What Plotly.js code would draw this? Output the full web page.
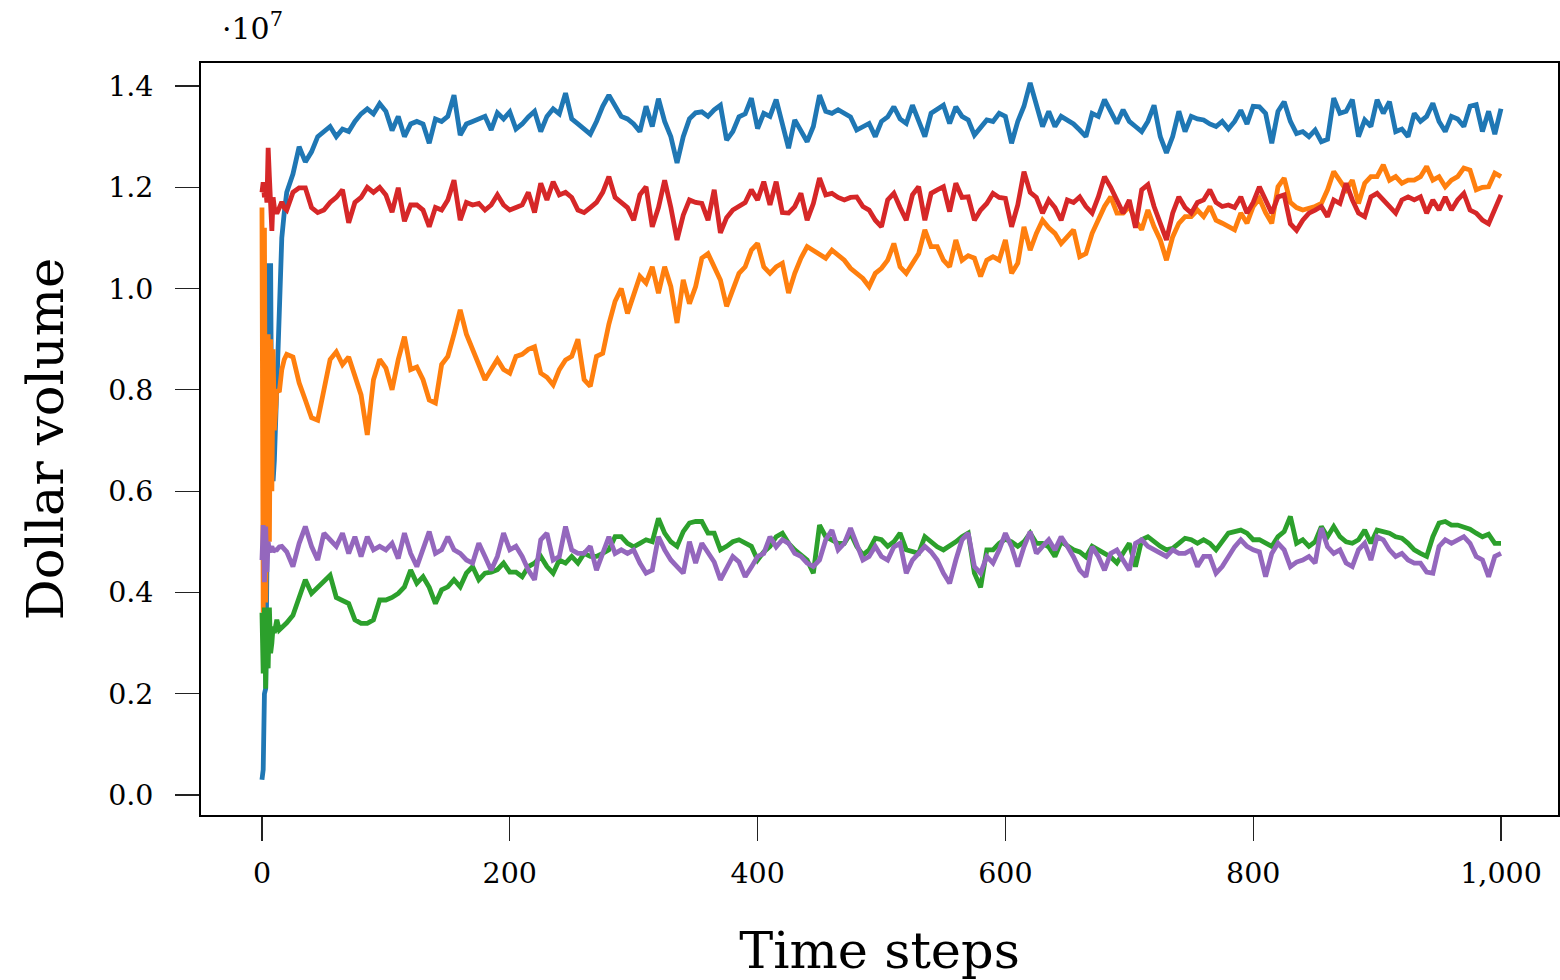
<!DOCTYPE html>
<html><head><meta charset="utf-8">
<script src="https://cdn.plot.ly/plotly-3.0.1.min.js"></script>
<style>html,body{margin:0;padding:0;background:#fff}#chart{width:1560px;height:980px}</style>
</head><body><div id="chart"></div>
<script>
// Time steps (sampling grid)
const steps = [0,1,2,3,4,5,6,7,8,9,10,12,14,16,18,20,
25,30,35,40,45,50,55,60,65,70,75,80,85,90,95,100,
105,110,115,120,125,130,135,140,145,150,155,160,165,170,175,180,185,190,195,200,
205,210,215,220,225,230,235,240,245,250,255,260,265,270,275,280,285,290,295,300,
305,310,315,320,325,330,335,340,345,350,355,360,365,370,375,380,385,390,395,400,
405,410,415,420,425,430,435,440,445,450,455,460,465,470,475,480,485,490,495,500,
505,510,515,520,525,530,535,540,545,550,555,560,565,570,575,580,585,590,595,600,
605,610,615,620,625,630,635,640,645,650,655,660,665,670,675,680,685,690,695,700,
705,710,715,720,725,730,735,740,745,750,755,760,765,770,775,780,785,790,795,800,
805,810,815,820,825,830,835,840,845,850,855,860,865,870,875,880,885,890,895,900,
905,910,915,920,925,930,935,940,945,950,955,960,965,970,975,980,985,990,995,1000];

// Dollar volume, in units of 1e7
const seriesBlue = [0.03,0.05,0.20,0.21,0.45,1.05,0.88,1.05,0.63,0.62,0.66,0.80,0.98,1.10,1.15,1.19,
1.226,1.28,1.25,1.27,1.30,1.31,1.32,1.30,1.315,1.31,1.33,1.345,1.355,1.345,1.365,1.35,
1.312,1.34,1.30,1.325,1.33,1.325,1.287,1.335,1.33,1.34,1.382,1.303,1.325,1.33,1.335,1.34,1.313,1.347,1.335,1.349,
1.315,1.325,1.339,1.35,1.31,1.34,1.355,1.345,1.386,1.335,1.325,1.315,1.305,1.33,1.36,1.382,1.36,1.34,1.335,1.325,
1.31,1.36,1.32,1.375,1.33,1.30,1.248,1.30,1.335,1.347,1.349,1.34,1.353,1.362,1.293,1.31,1.339,1.345,1.376,1.316,
1.346,1.34,1.373,1.320,1.277,1.333,1.31,1.290,1.32,1.382,1.35,1.346,1.353,1.345,1.339,1.313,1.32,1.326,1.300,1.33,
1.339,1.359,1.335,1.326,1.362,1.33,1.300,1.346,1.355,1.362,1.326,1.359,1.34,1.333,1.303,1.32,1.333,1.33,1.346,1.34,
1.287,1.33,1.36,1.406,1.36,1.32,1.35,1.32,1.34,1.333,1.325,1.313,1.30,1.346,1.34,1.373,1.35,1.326,1.353,1.33,
1.32,1.31,1.33,1.362,1.30,1.268,1.30,1.35,1.31,1.34,1.335,1.333,1.325,1.32,1.33,1.315,1.33,1.352,1.325,1.36,
1.359,1.346,1.287,1.35,1.369,1.33,1.306,1.31,1.30,1.313,1.29,1.295,1.376,1.346,1.35,1.373,1.30,1.333,1.32,1.373,
1.346,1.369,1.31,1.315,1.30,1.346,1.33,1.34,1.366,1.33,1.31,1.34,1.335,1.32,1.36,1.363,1.31,1.35,1.305,1.355];

const seriesOrange = [1.16,0.36,1.12,0.38,0.62,0.91,0.50,0.90,0.60,0.88,0.72,0.80,0.796,0.84,0.86,0.87,
0.865,0.814,0.78,0.745,0.74,0.80,0.86,0.875,0.85,0.865,0.83,0.79,0.711,0.82,0.86,0.843,
0.80,0.86,0.905,0.84,0.845,0.82,0.78,0.774,0.85,0.866,0.91,0.958,0.91,0.88,0.85,0.82,0.84,0.86,0.84,0.833,
0.866,0.87,0.88,0.885,0.833,0.825,0.81,0.84,0.859,0.866,0.90,0.82,0.807,0.866,0.872,0.93,0.975,1.00,0.951,0.99,
1.024,1.011,1.043,0.991,1.043,1.004,0.932,1.017,0.97,1.004,1.06,1.069,1.043,1.017,0.965,1.00,1.030,1.043,1.076,1.089,
1.043,1.030,1.043,1.050,0.991,1.030,1.06,1.083,1.075,1.069,1.06,1.076,1.065,1.056,1.04,1.030,1.02,1.004,1.030,1.04,
1.056,1.089,1.043,1.030,1.05,1.069,1.116,1.083,1.083,1.056,1.043,1.096,1.056,1.065,1.06,1.024,1.056,1.063,1.056,1.096,
1.030,1.05,1.122,1.076,1.109,1.135,1.12,1.109,1.089,1.102,1.116,1.063,1.069,1.109,1.135,1.162,1.181,1.149,1.149,1.162,
1.135,1.116,1.155,1.122,1.096,1.056,1.102,1.129,1.142,1.142,1.155,1.142,1.162,1.135,1.129,1.122,1.116,1.149,1.129,1.162,
1.178,1.15,1.129,1.201,1.218,1.17,1.16,1.155,1.158,1.162,1.168,1.195,1.231,1.214,1.195,1.214,1.168,1.208,1.221,1.221,
1.244,1.214,1.221,1.208,1.214,1.214,1.221,1.241,1.214,1.221,1.201,1.214,1.221,1.238,1.234,1.195,1.20,1.201,1.228,1.221];

const seriesGreen = [0.36,0.24,0.37,0.21,0.36,0.25,0.37,0.28,0.30,0.333,0.32,0.346,0.326,0.33,0.333,0.34,
0.355,0.392,0.425,0.398,0.41,0.421,0.434,0.39,0.385,0.378,0.346,0.339,0.339,0.346,0.385,0.385,
0.39,0.398,0.411,0.444,0.418,0.431,0.41,0.378,0.405,0.411,0.425,0.411,0.438,0.451,0.425,0.438,0.44,0.445,0.458,0.44,
0.44,0.431,0.451,0.458,0.471,0.451,0.438,0.464,0.458,0.471,0.458,0.477,0.471,0.471,0.477,0.484,0.51,0.51,0.497,0.49,
0.497,0.504,0.50,0.546,0.517,0.50,0.491,0.52,0.537,0.540,0.540,0.517,0.517,0.484,0.491,0.50,0.504,0.497,0.491,0.464,
0.48,0.491,0.51,0.517,0.497,0.484,0.475,0.464,0.438,0.533,0.51,0.504,0.497,0.497,0.517,0.491,0.474,0.484,0.507,0.504,
0.491,0.50,0.517,0.484,0.48,0.477,0.51,0.50,0.49,0.484,0.491,0.50,0.51,0.517,0.438,0.41,0.484,0.484,0.497,0.505,
0.50,0.491,0.50,0.517,0.497,0.497,0.49,0.471,0.50,0.491,0.484,0.48,0.47,0.491,0.484,0.477,0.47,0.458,0.477,0.497,
0.451,0.504,0.51,0.50,0.491,0.484,0.487,0.497,0.507,0.504,0.497,0.504,0.497,0.484,0.50,0.517,0.52,0.523,0.517,0.504,
0.504,0.497,0.491,0.51,0.52,0.550,0.497,0.504,0.491,0.50,0.53,0.51,0.53,0.51,0.50,0.497,0.504,0.523,0.497,0.523,
0.52,0.517,0.51,0.507,0.497,0.484,0.477,0.471,0.51,0.537,0.54,0.533,0.533,0.53,0.525,0.517,0.51,0.515,0.497,0.497];

const seriesRed = [1.19,1.21,1.18,1.20,1.17,1.278,1.22,1.13,1.114,1.18,1.16,1.148,1.16,1.171,1.16,1.155,
1.19,1.199,1.199,1.16,1.15,1.155,1.17,1.18,1.195,1.13,1.17,1.18,1.20,1.19,1.20,1.185,
1.151,1.199,1.133,1.165,1.165,1.155,1.122,1.16,1.155,1.175,1.214,1.135,1.17,1.165,1.168,1.155,1.165,1.185,1.165,1.155,
1.16,1.165,1.19,1.15,1.208,1.175,1.211,1.185,1.19,1.18,1.155,1.15,1.16,1.17,1.19,1.221,1.18,1.17,1.16,1.135,
1.185,1.201,1.122,1.16,1.214,1.16,1.096,1.145,1.175,1.17,1.168,1.135,1.195,1.11,1.14,1.155,1.162,1.17,1.195,1.175,
1.211,1.165,1.211,1.15,1.149,1.162,1.188,1.135,1.168,1.218,1.185,1.188,1.18,1.175,1.18,1.181,1.162,1.155,1.135,1.122,
1.175,1.188,1.16,1.135,1.185,1.201,1.135,1.188,1.195,1.201,1.152,1.208,1.18,1.181,1.135,1.155,1.168,1.188,1.18,1.178,
1.122,1.165,1.231,1.19,1.18,1.149,1.175,1.16,1.135,1.175,1.17,1.181,1.162,1.149,1.181,1.221,1.20,1.175,1.149,1.175,
1.12,1.195,1.205,1.162,1.13,1.096,1.149,1.181,1.16,1.149,1.17,1.175,1.195,1.17,1.162,1.165,1.16,1.181,1.149,1.17,
1.201,1.175,1.149,1.181,1.185,1.128,1.115,1.135,1.149,1.155,1.162,1.142,1.175,1.168,1.208,1.175,1.149,1.142,1.181,1.188,
1.175,1.162,1.149,1.175,1.181,1.175,1.181,1.149,1.175,1.155,1.181,1.155,1.175,1.188,1.155,1.149,1.135,1.128,1.155,1.185];

const seriesPurple = [0.464,0.533,0.42,0.53,0.44,0.50,0.48,0.49,0.491,0.48,0.484,0.484,0.49,0.491,0.487,0.48,
0.451,0.497,0.530,0.491,0.464,0.517,0.504,0.491,0.517,0.477,0.510,0.471,0.51,0.484,0.491,0.484,
0.497,0.467,0.517,0.477,0.451,0.484,0.520,0.477,0.484,0.51,0.484,0.477,0.464,0.458,0.497,0.471,0.444,0.471,0.517,0.484,
0.491,0.471,0.444,0.425,0.504,0.517,0.464,0.471,0.530,0.484,0.477,0.477,0.491,0.444,0.477,0.510,0.477,0.484,0.477,0.484,
0.458,0.438,0.444,0.510,0.484,0.464,0.451,0.438,0.50,0.458,0.497,0.477,0.46,0.425,0.45,0.471,0.46,0.431,0.45,0.471,
0.477,0.510,0.49,0.504,0.497,0.477,0.471,0.458,0.451,0.464,0.504,0.523,0.484,0.497,0.527,0.497,0.464,0.471,0.491,0.471,
0.464,0.49,0.497,0.438,0.464,0.477,0.491,0.48,0.464,0.438,0.418,0.464,0.504,0.517,0.451,0.438,0.471,0.458,0.484,0.517,
0.49,0.451,0.49,0.520,0.477,0.491,0.504,0.484,0.510,0.491,0.47,0.444,0.431,0.49,0.471,0.444,0.477,0.484,0.464,0.444,
0.497,0.504,0.491,0.484,0.477,0.471,0.484,0.477,0.477,0.484,0.451,0.471,0.471,0.438,0.451,0.471,0.49,0.504,0.491,0.484,
0.48,0.431,0.477,0.497,0.484,0.451,0.46,0.464,0.471,0.458,0.527,0.49,0.477,0.484,0.458,0.451,0.484,0.497,0.464,0.510,
0.504,0.484,0.471,0.477,0.464,0.458,0.458,0.44,0.438,0.491,0.504,0.497,0.504,0.510,0.497,0.471,0.464,0.431,0.471,0.477];

const xTickVals = [0, 200, 400, 600, 800, 1000];
const yTickVals = [0.0, 0.2, 0.4, 0.6, 0.8, 1.0, 1.2, 1.4];
const xTitle = 'Time steps';
const yTitle = 'Dollar volume';
const scaleLabel = '·10<sup>7</sup>';

const seriesList = [seriesBlue, seriesOrange, seriesGreen, seriesRed, seriesPurple];
const colors = ['#1f77b4', '#ff7f0e', '#2ca02c', '#d62728', '#9467bd'];

const FONT = 'DejaVu Serif, Liberation Serif, serif';

const traces = seriesList.map((ys, i) => ({
  type: 'scatter', mode: 'lines', x: steps, y: ys,
  line: {color: colors[i], width: 4.8, shape: 'linear'},
  showlegend: false, hoverinfo: 'skip'
}));

const layout = {
  width: 1560, height: 980,
  margin: {l: 201, r: 2, t: 63, b: 165, autoexpand: false},
  paper_bgcolor: '#ffffff', plot_bgcolor: '#ffffff',
  font: {family: FONT, color: '#000', size: 28},
  xaxis: {
    range: [-49.2, 1046], tickvals: xTickVals, tickformat: ',d',
    ticks: 'outside', ticklen: 24, tickwidth: 1.2, tickcolor: '#222',
    ticklabelstandoff: 8,
    showline: true, linecolor: '#000', linewidth: 1.8, mirror: true,
    showgrid: false, zeroline: false,
    tickfont: {family: FONT, size: 28.5, color: '#000'},
    title: {text: xTitle, font: {family: FONT, size: 51, color: '#000'}, standoff: 44},
    automargin: false
  },
  yaxis: {
    range: [-0.0395, 1.4454], tickvals: yTickVals, tickformat: '.1f',
    ticks: 'outside', ticklen: 24, tickwidth: 1.2, tickcolor: '#222',
    ticklabelstandoff: 16,
    showline: true, linecolor: '#000', linewidth: 1.8, mirror: true,
    showgrid: false, zeroline: false,
    tickfont: {family: FONT, size: 28.5, color: '#000'},
    title: {text: yTitle, font: {family: FONT, size: 51, color: '#000'}, standoff: 28},
    automargin: false
  },
  annotations: [{
    xref: 'paper', yref: 'paper', x: 0.014, y: 1.02, xanchor: 'left', yanchor: 'bottom',
    text: scaleLabel, showarrow: false, font: {family: FONT, size: 30, color: '#000'}
  }]
};

Plotly.newPlot('chart', traces, layout, {displayModeBar: false, staticPlot: true});
</script>
</body></html>
